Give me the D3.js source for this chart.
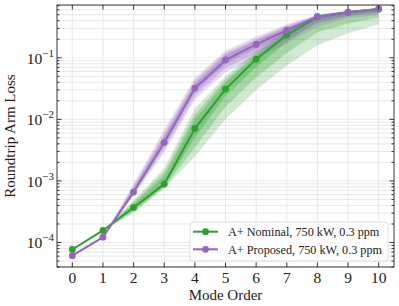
<!DOCTYPE html>
<html lang="en">
<head>
<meta charset="UTF-8">
<title>Roundtrip Arm Loss vs Mode Order</title>
<script src="https://d3js.org/d3.v7.min.js"></script>
<style>
  body { margin: 0; background: #fff; }
  svg { display: block; font-family: 'Liberation Serif', 'DejaVu Serif', serif; }
  .grid line { stroke: #e3e3e3; stroke-width: 0.8px; }
</style>
</head>
<body>
<svg id="chart" width="399" height="306"></svg>
<script>
// mode orders
const modes = [0, 1, 2, 3, 4, 5, 6, 7, 8, 9, 10];
const bandModes = [1, 2, 3, 4, 5, 6, 7, 8, 9, 10];

// main curves
const nominal = [7.7e-5, 1.57e-4, 3.7e-4, 8.9e-4, 7.1e-3, 0.031, 0.095, 0.234, 0.464, 0.547, 0.62];
const proposed = [6.1e-5, 1.22e-4, 6.6e-4, 4.2e-3, 0.032, 0.092, 0.165, 0.28, 0.464, 0.547, 0.62];

// spread bands (outer -> inner), over modes 1..10
const nominalLo = [
  [1.57e-4, 3.0e-4, 7.5e-4, 2.5e-3, 1.0e-2, 3.0e-2, 7.5e-2, 0.16, 0.25, 0.35],
  [1.57e-4, 3.2e-4, 7.8e-4, 3.5e-3, 1.6e-2, 4.8e-2, 0.12, 0.26, 0.36, 0.45],
  [1.57e-4, 3.4e-4, 8.2e-4, 5.0e-3, 2.4e-2, 7.0e-2, 0.18, 0.38, 0.48, 0.55]
];
const nominalHi = [
  [1.57e-4, 4.8e-4, 1.6e-3, 1.5e-2, 5.0e-2, 0.13, 0.30, 0.50, 0.58, 0.64],
  [1.57e-4, 4.5e-4, 1.4e-3, 1.2e-2, 4.5e-2, 0.12, 0.28, 0.48, 0.57, 0.63],
  [1.57e-4, 4.2e-4, 1.2e-3, 1.0e-2, 4.0e-2, 0.11, 0.26, 0.47, 0.56, 0.63]
];
const proposedLo = [
  [1.22e-4, 5.8e-4, 2.9e-3, 0.021, 0.058, 0.10, 0.17, 0.32, 0.44, 0.50],
  [1.22e-4, 6.0e-4, 3.3e-3, 0.024, 0.068, 0.12, 0.20, 0.36, 0.47, 0.54],
  [1.22e-4, 6.2e-4, 3.8e-3, 0.028, 0.080, 0.14, 0.24, 0.42, 0.51, 0.58]
];
const proposedHi = [
  [1.22e-4, 9.0e-4, 6.8e-3, 0.047, 0.13, 0.22, 0.35, 0.50, 0.58, 0.64],
  [1.22e-4, 8.2e-4, 5.8e-3, 0.042, 0.12, 0.20, 0.33, 0.49, 0.57, 0.63],
  [1.22e-4, 7.6e-4, 5.2e-3, 0.038, 0.11, 0.19, 0.31, 0.48, 0.56, 0.63]
];

const xTicks = [0, 1, 2, 3, 4, 5, 6, 7, 8, 9, 10];
const yTicks = [1e-4, 1e-3, 1e-2, 1e-1];
const labels = ["A+ Nominal, 750 kW, 0.3 ppm", "A+ Proposed, 750 kW, 0.3 ppm"];
const colors = ["#2ca02c", "#9467bd"];

const svg = d3.select("#chart");
const pl = 57, pr = 394, pt = 5, pb = 267;

const x = d3.scaleLinear().domain([-0.5, 10.5]).range([pl, pr]);
const y = d3.scaleLog().domain([4.0e-5, 0.72]).range([pb, pt]);

// minor log ticks
const minorY = [];
for (let e = -5; e <= 0; e++) {
  for (let m = 2; m <= 9; m++) {
    const v = m * Math.pow(10, e);
    if (v >= y.domain()[0] && v <= y.domain()[1]) minorY.push(v);
  }
}

svg.append("clipPath").attr("id", "clip")
  .append("rect").attr("x", pl).attr("y", pt)
  .attr("width", pr - pl).attr("height", pb - pt);

// grid
const grid = svg.append("g").attr("class", "grid");
grid.selectAll(".gx").data(xTicks).enter().append("line")
  .attr("x1", d => x(d)).attr("x2", d => x(d)).attr("y1", pt).attr("y2", pb);
grid.selectAll(".gy").data(yTicks.concat(minorY)).enter().append("line")
  .attr("x1", pl).attr("x2", pr).attr("y1", d => y(d)).attr("y2", d => y(d));

const plot = svg.append("g").attr("clip-path", "url(#clip)");

function drawBands(lo, hi, color, alpha) {
  lo.forEach((loArr, k) => {
    const pts = bandModes.map((m, i) => ({ m, lo: loArr[i], hi: hi[k][i] }));
    const area = d3.area().x(d => x(d.m)).y0(d => y(d.lo)).y1(d => y(d.hi));
    plot.append("path").datum(pts).attr("d", area)
      .attr("fill", color).attr("fill-opacity", alpha[k]).attr("stroke", "none");
  });
}

function drawLine(vals, color) {
  const pts = modes.map((m, i) => ({ m, v: vals[i] }));
  const line = d3.line().x(d => x(d.m)).y(d => y(d.v));
  plot.append("path").datum(pts).attr("d", line)
    .attr("fill", "none").attr("stroke", color).attr("stroke-width", 2);
  plot.selectAll(null).data(pts).enter().append("circle")
    .attr("cx", d => x(d.m)).attr("cy", d => y(d.v)).attr("r", 3.4)
    .attr("fill", color);
}

drawBands(nominalLo, nominalHi, colors[0], [0.22, 0.25, 0.3]);
drawBands(proposedLo, proposedHi, colors[1], [0.24, 0.27, 0.32]);
drawLine(nominal, colors[0]);
drawLine(proposed, colors[1]);

// axes frame and ticks (inward, all sides)
const ax = svg.append("g").attr("stroke", "#222").attr("stroke-width", 0.9);
ax.append("rect").attr("x", pl).attr("y", pt).attr("width", pr - pl)
  .attr("height", pb - pt).attr("fill", "none");
xTicks.forEach(t => {
  ax.append("line").attr("x1", x(t)).attr("x2", x(t)).attr("y1", pb).attr("y2", pb - 4.5);
  ax.append("line").attr("x1", x(t)).attr("x2", x(t)).attr("y1", pt).attr("y2", pt + 4.5);
});
yTicks.forEach(t => {
  ax.append("line").attr("x1", pl).attr("x2", pl + 4.5).attr("y1", y(t)).attr("y2", y(t));
  ax.append("line").attr("x1", pr).attr("x2", pr - 4.5).attr("y1", y(t)).attr("y2", y(t));
});
minorY.forEach(t => {
  ax.append("line").attr("x1", pl).attr("x2", pl + 2.5).attr("y1", y(t)).attr("y2", y(t));
  ax.append("line").attr("x1", pr).attr("x2", pr - 2.5).attr("y1", y(t)).attr("y2", y(t));
});

// tick labels
svg.append("g").selectAll("text").data(xTicks).enter().append("text")
  .attr("x", d => x(d)).attr("y", 282.5).attr("text-anchor", "middle")
  .attr("font-size", 15.5).attr("fill", "#222").text(d => d);

const yl = svg.append("g");
yTicks.forEach(t => {
  const e = Math.round(Math.log10(t));
  const txt = yl.append("text").attr("x", 54).attr("y", y(t) + 6)
    .attr("text-anchor", "end").attr("font-size", 15.5).attr("fill", "#222");
  txt.append("tspan").text("10");
  txt.append("tspan").attr("dy", -7).attr("font-size", 11).text("\u2212" + Math.abs(e));
});

// axis titles
svg.append("text").attr("x", (pl + pr) / 2).attr("y", 299.5)
  .attr("text-anchor", "middle").attr("font-size", 15).attr("fill", "#222")
  .text("Mode Order");
svg.append("text").attr("transform", `translate(14.5,${(pt + pb) / 2}) rotate(-90)`)
  .attr("text-anchor", "middle").attr("font-size", 15).attr("fill", "#222")
  .text("Roundtrip Arm Loss");

// legend
const lg = svg.append("g");
lg.append("rect").attr("x", 190).attr("y", 222).attr("width", 198).attr("height", 39)
  .attr("rx", 3).attr("fill", "#fff").attr("fill-opacity", 0.85)
  .attr("stroke", "#d6d6d6").attr("stroke-width", 0.8);
labels.forEach((lab, i) => {
  const ly = 231.7 + i * 17.6;
  lg.append("line").attr("x1", 193).attr("x2", 218).attr("y1", ly).attr("y2", ly)
    .attr("stroke", colors[i]).attr("stroke-width", 2);
  lg.append("circle").attr("cx", 205.5).attr("cy", ly).attr("r", 3.4).attr("fill", colors[i]);
  lg.append("text").attr("x", 228).attr("y", ly + 4.2).attr("font-size", 12.2)
    .attr("fill", "#222").text(lab);
});
</script>
</body>
</html>
